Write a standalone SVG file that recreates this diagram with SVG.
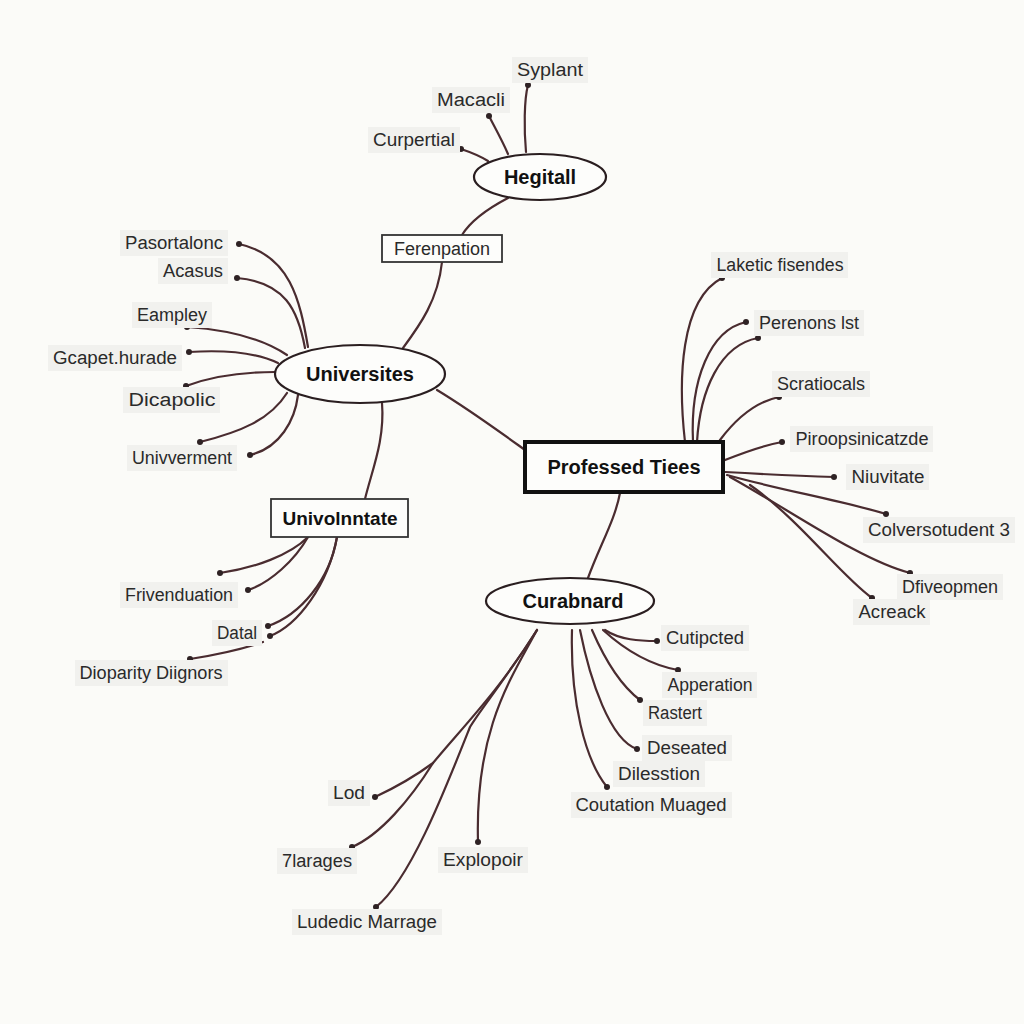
<svg xmlns="http://www.w3.org/2000/svg" width="1024" height="1024" viewBox="0 0 1024 1024">
<style>
.bg{fill:#fbfbf8}
.ln{fill:none;stroke:#4a2c30;stroke-width:2.2;stroke-linecap:round}
.dot{fill:#2e2224}
.lb rect{fill:#f1f1ee}
.lb text{font-family:"Liberation Sans",Arial,sans-serif;font-size:18px;fill:#2a2a2a;text-anchor:middle}
.nd text{font-family:"Liberation Sans",Arial,sans-serif;font-weight:bold;font-size:20px;fill:#111;text-anchor:middle}
.el{fill:#fdfdfb;stroke:#2a1e20;stroke-width:2.2}
.bx{fill:#fdfdfb;stroke:#333;stroke-width:1.8}
</style>
<rect class="bg" x="0" y="0" width="1024" height="1024"/>
<g id="connectors">
<path class="ln" d="M526,152 C524,130 524,100 528,85"/>
<path class="ln" d="M508,154 C502,140 494,126 489,116"/>
<path class="ln" d="M488,161 C480,156 470,152 461,149"/>
<path class="ln" d="M508,198 C485,210 470,222 462,235"/>
<path class="ln" d="M442,262 C438,300 420,325 403,348"/>
<path class="ln" d="M437,390 C470,410 500,432 525,450"/>
<path class="ln" d="M382,403 C385,440 372,470 365,499"/>
<path class="ln" d="M620,493 C615,520 600,545 588,578"/>
<path class="ln" d="M308,347 C300,300 290,255 239,244"/>
<path class="ln" d="M305,348 C298,310 285,282 237,278"/>
<path class="ln" d="M287,355 C265,340 230,330 187,327"/>
<path class="ln" d="M278,363 C255,352 220,350 189,352"/>
<path class="ln" d="M275,372 C250,372 215,375 186,386"/>
<path class="ln" d="M287,393 C270,420 240,432 200,442"/>
<path class="ln" d="M298,395 C295,420 280,448 250,455"/>
<path class="ln" d="M308,537 C290,555 255,568 220,573"/>
<path class="ln" d="M308,537 C295,560 270,583 248,590"/>
<path class="ln" d="M337,537 C330,580 300,615 268,626"/>
<path class="ln" d="M337,537 C328,585 298,625 270,636"/>
<path class="ln" d="M263,642 C240,650 215,655 190,659"/>
<path class="ln" d="M685,442 C678,380 680,300 722,278"/>
<path class="ln" d="M693,442 C690,380 710,330 746,322"/>
<path class="ln" d="M697,442 C700,390 720,345 758,338"/>
<path class="ln" d="M720,440 C735,420 755,402 779,397"/>
<path class="ln" d="M725,460 C745,452 765,445 782,442"/>
<path class="ln" d="M725,472 C760,474 800,476 834,477"/>
<path class="ln" d="M727,475 C780,490 840,500 886,514"/>
<path class="ln" d="M730,477 C790,510 860,560 910,573"/>
<path class="ln" d="M750,485 C800,520 840,575 872,598"/>
<path class="ln" d="M605,630 C620,640 640,641 657,641"/>
<path class="ln" d="M603,630 C625,650 650,665 678,670"/>
<path class="ln" d="M592,630 C605,660 620,685 640,700"/>
<path class="ln" d="M580,630 C590,680 610,740 637,749"/>
<path class="ln" d="M572,630 C570,700 585,760 607,787"/>
<path class="ln" d="M537,630 C510,680 475,730 478,842"/>
<path class="ln" d="M537,630 C505,680 480,710 470,727 C445,790 410,880 376,907"/>
<path class="ln" d="M537,630 C500,690 460,730 433,763 C410,800 380,835 352,847"/>
<path class="ln" d="M433,763 C410,780 390,790 375,797"/>
<g>
<circle class="dot" cx="528" cy="85" r="3"/><circle class="dot" cx="489" cy="116" r="3"/><circle class="dot" cx="461" cy="149" r="3"/>
<circle class="dot" cx="239" cy="244" r="3"/><circle class="dot" cx="237" cy="278" r="3"/><circle class="dot" cx="187" cy="327" r="3"/>
<circle class="dot" cx="189" cy="352" r="3"/><circle class="dot" cx="186" cy="386" r="3"/><circle class="dot" cx="200" cy="442" r="3"/><circle class="dot" cx="250" cy="455" r="3"/>
<circle class="dot" cx="220" cy="573" r="3"/><circle class="dot" cx="248" cy="590" r="3"/><circle class="dot" cx="268" cy="626" r="3"/><circle class="dot" cx="270" cy="636" r="3"/><circle class="dot" cx="190" cy="659" r="3"/>
<circle class="dot" cx="722" cy="278" r="3"/><circle class="dot" cx="746" cy="322" r="3"/><circle class="dot" cx="758" cy="338" r="3"/><circle class="dot" cx="779" cy="397" r="3"/>
<circle class="dot" cx="782" cy="442" r="3"/><circle class="dot" cx="834" cy="477" r="3"/><circle class="dot" cx="886" cy="514" r="3"/><circle class="dot" cx="910" cy="573" r="3"/><circle class="dot" cx="872" cy="598" r="3"/>
<circle class="dot" cx="657" cy="641" r="3"/><circle class="dot" cx="678" cy="670" r="3"/><circle class="dot" cx="640" cy="700" r="3"/><circle class="dot" cx="637" cy="749" r="3"/><circle class="dot" cx="607" cy="787" r="3"/>
<circle class="dot" cx="478" cy="842" r="3"/><circle class="dot" cx="376" cy="907" r="3"/><circle class="dot" cx="352" cy="847" r="3"/><circle class="dot" cx="375" cy="797" r="3"/>
</g>
</g>
<g id="node-hegitall" class="nd"><ellipse class="el" cx="540" cy="177" rx="66" ry="23"/><text x="540" y="184">Hegitall</text></g>
<g id="node-ferenpation" class="nd"><rect class="bx" x="382" y="235" width="120" height="27"/><text x="442" y="255" style="font-weight:normal;font-size:18px;fill:#2a2a2a">Ferenpation</text></g>
<g id="node-universites" class="nd"><ellipse class="el" cx="360" cy="374" rx="85" ry="29"/><text x="360" y="381">Universites</text></g>
<g id="node-univolnntate" class="nd"><rect class="bx" x="271" y="499" width="137" height="38"/><text x="340" y="525" style="font-size:19px">Univolnntate</text></g>
<g id="node-professed" class="nd"><rect x="525" y="442" width="198" height="50" fill="#fdfdfb" stroke="#111" stroke-width="4"/><text x="624" y="474">Professed Tiees</text></g>
<g id="node-curabnard" class="nd"><ellipse class="el" cx="570" cy="601" rx="84" ry="23"/><text x="573" y="608">Curabnard</text></g>
<g id="lb-syplant" class="lb"><rect x="512" y="57" width="76" height="26"/><text x="550" y="76" textLength="66" lengthAdjust="spacingAndGlyphs">Syplant</text></g>
<g id="lb-macacli" class="lb"><rect x="432" y="87" width="78" height="26"/><text x="471" y="106" textLength="68" lengthAdjust="spacingAndGlyphs">Macacli</text></g>
<g id="lb-curpertial" class="lb"><rect x="368" y="127" width="92" height="26"/><text x="414" y="146" textLength="82" lengthAdjust="spacingAndGlyphs">Curpertial</text></g>
<g id="lb-pasortalonc" class="lb"><rect x="120" y="230" width="108" height="26"/><text x="174" y="249" textLength="98" lengthAdjust="spacingAndGlyphs">Pasortalonc</text></g>
<g id="lb-acasus" class="lb"><rect x="158" y="258" width="70" height="26"/><text x="193" y="277" textLength="60" lengthAdjust="spacingAndGlyphs">Acasus</text></g>
<g id="lb-eampley" class="lb"><rect x="132" y="302" width="80" height="26"/><text x="172" y="321" textLength="70" lengthAdjust="spacingAndGlyphs">Eampley</text></g>
<g id="lb-gcapet" class="lb"><rect x="48" y="345" width="134" height="26"/><text x="115" y="364" textLength="124" lengthAdjust="spacingAndGlyphs">Gcapet.hurade</text></g>
<g id="lb-dicapolic" class="lb"><rect x="123" y="387" width="97" height="26"/><text x="172" y="406" textLength="87" lengthAdjust="spacingAndGlyphs">Dicapolic</text></g>
<g id="lb-univverment" class="lb"><rect x="127" y="445" width="110" height="26"/><text x="182" y="464" textLength="100" lengthAdjust="spacingAndGlyphs">Univverment</text></g>
<g id="lb-frivenduation" class="lb"><rect x="120" y="582" width="118" height="26"/><text x="179" y="601" textLength="108" lengthAdjust="spacingAndGlyphs">Frivenduation</text></g>
<g id="lb-data" class="lb"><rect x="212" y="620" width="50" height="26"/><text x="237" y="639" textLength="40" lengthAdjust="spacingAndGlyphs">Datal</text></g>
<g id="lb-dioparity" class="lb"><rect x="75" y="660" width="153" height="26"/><text x="151" y="679" textLength="143" lengthAdjust="spacingAndGlyphs">Dioparity Diignors</text></g>
<g id="lb-laketic" class="lb"><rect x="711" y="252" width="137" height="26"/><text x="780" y="271" textLength="127" lengthAdjust="spacingAndGlyphs">Laketic fisendes</text></g>
<g id="lb-perenons" class="lb"><rect x="754" y="310" width="110" height="26"/><text x="809" y="329" textLength="100" lengthAdjust="spacingAndGlyphs">Perenons lst</text></g>
<g id="lb-scratiocals" class="lb"><rect x="772" y="371" width="98" height="26"/><text x="821" y="390" textLength="88" lengthAdjust="spacingAndGlyphs">Scratiocals</text></g>
<g id="lb-piroops" class="lb"><rect x="790" y="426" width="143" height="26"/><text x="862" y="445" textLength="133" lengthAdjust="spacingAndGlyphs">Piroopsinicatzde</text></g>
<g id="lb-niuvitate" class="lb"><rect x="846" y="464" width="83" height="26"/><text x="888" y="483" textLength="73" lengthAdjust="spacingAndGlyphs">Niuvitate</text></g>
<g id="lb-colver" class="lb"><rect x="863" y="517" width="152" height="26"/><text x="939" y="536" textLength="142" lengthAdjust="spacingAndGlyphs">Colversotudent 3</text></g>
<g id="lb-dfiveopmen" class="lb"><rect x="897" y="574" width="106" height="26"/><text x="950" y="593" textLength="96" lengthAdjust="spacingAndGlyphs">Dfiveopmen</text></g>
<g id="lb-acreack" class="lb"><rect x="853" y="599" width="77" height="26"/><text x="892" y="618" textLength="67" lengthAdjust="spacingAndGlyphs">Acreack</text></g>
<g id="lb-cutipcted" class="lb"><rect x="661" y="625" width="88" height="26"/><text x="705" y="644" textLength="78" lengthAdjust="spacingAndGlyphs">Cutipcted</text></g>
<g id="lb-apperation" class="lb"><rect x="662" y="672" width="95" height="26"/><text x="710" y="691" textLength="85" lengthAdjust="spacingAndGlyphs">Apperation</text></g>
<g id="lb-rastert" class="lb"><rect x="643" y="700" width="64" height="26"/><text x="675" y="719" textLength="54" lengthAdjust="spacingAndGlyphs">Rastert</text></g>
<g id="lb-deseated" class="lb"><rect x="642" y="735" width="90" height="26"/><text x="687" y="754" textLength="80" lengthAdjust="spacingAndGlyphs">Deseated</text></g>
<g id="lb-dilesstion" class="lb"><rect x="613" y="761" width="92" height="26"/><text x="659" y="780" textLength="82" lengthAdjust="spacingAndGlyphs">Dilesstion</text></g>
<g id="lb-coutation" class="lb"><rect x="571" y="792" width="161" height="26"/><text x="651" y="811" textLength="151" lengthAdjust="spacingAndGlyphs">Coutation Muaged</text></g>
<g id="lb-lod" class="lb"><rect x="328" y="780" width="42" height="26"/><text x="349" y="799" textLength="32" lengthAdjust="spacingAndGlyphs">Lod</text></g>
<g id="lb-7larages" class="lb"><rect x="277" y="848" width="80" height="26"/><text x="317" y="867" textLength="70" lengthAdjust="spacingAndGlyphs">7larages</text></g>
<g id="lb-explopoir" class="lb"><rect x="438" y="847" width="90" height="26"/><text x="483" y="866" textLength="80" lengthAdjust="spacingAndGlyphs">Explopoir</text></g>
<g id="lb-ludedic" class="lb"><rect x="292" y="909" width="150" height="26"/><text x="367" y="928" textLength="140" lengthAdjust="spacingAndGlyphs">Ludedic Marrage</text></g>
</svg>
